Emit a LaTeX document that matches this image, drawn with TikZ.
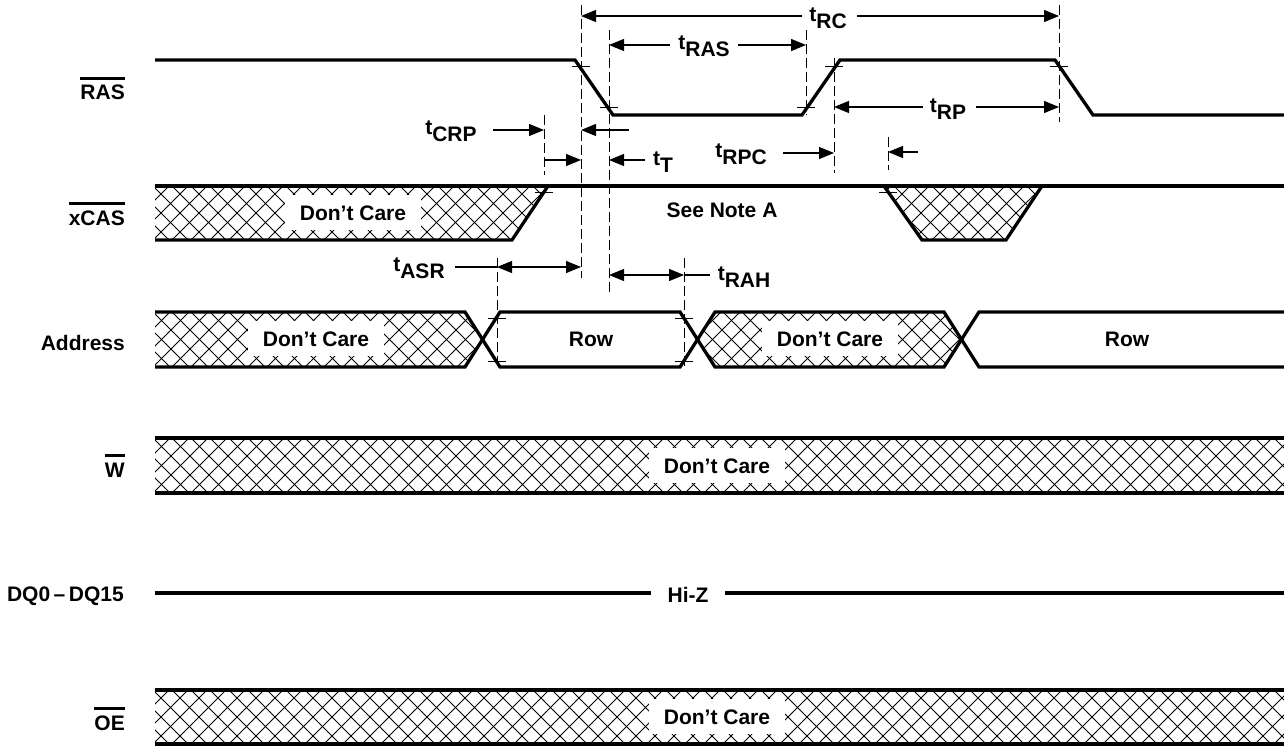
\documentclass[tikz,border=0pt]{standalone}
\usepackage{fontspec}
\setmainfont{Liberation Sans}
\usetikzlibrary{arrows.meta}
\newcommand{\tm}[1]{t\raisebox{-7pt}{#1}}
\newcommand{\ovl}[1]{\sbox0{#1}\rlap{\rule[20pt]{\wd0}{2.8pt}}\usebox0}
\newcommand{\hatchband}[2]{\foreach \hx in {20,39,...,1300}{\draw[hatchln] (\hx,#1) -- ++(#2-#1,#2-#1); \draw[hatchln] (\hx,#2) -- ++(#2-#1,#1-#2);}}
\begin{document}
\begin{tikzpicture}[x=1pt,y=-1pt,
  >={Triangle[length=15pt,width=12pt]},
  sig/.style={line width=3.3pt},
  hatchln/.style={line width=0.9pt},
  dashln/.style={line width=1pt, dash pattern=on 10pt off 4pt},
  tickmk/.style={line width=1pt},
  dimarr/.style={line width=1.2pt},
  txt/.style={font=\bfseries\fontsize{21}{25}\selectfont, inner sep=0pt},
  whitelbl/.style={txt, fill=white, text height=15pt, text depth=0pt, inner ysep=10pt, inner xsep=15pt, anchor=base}]
\useasboundingbox (0,0) rectangle (1284,746);

% ---------- hatched regions ----------
\begin{scope}
  \clip (155,186) -- (548,186) -- (512,240) -- (155,240) -- cycle;
  \hatchband{186}{240}
\end{scope}
\begin{scope}
  \clip (884,186) -- (922,240) -- (1006,240) -- (1042,186) -- cycle;
  \hatchband{186}{240}
\end{scope}
\begin{scope}
  \clip (155,312) -- (465,312) -- (482.5,339.5) -- (465,367) -- (155,367) -- cycle;
  \hatchband{312}{367}
\end{scope}
\begin{scope}
  \clip (697.5,339.5) -- (715,312) -- (944,312) -- (961.5,339.5) -- (944,367) -- (715,367) -- cycle;
  \hatchband{312}{367}
\end{scope}
\begin{scope}
  \clip (155,438) rectangle (1284,493);
  \hatchband{438}{493}
\end{scope}
\begin{scope}
  \clip (155,690) rectangle (1284,744);
  \hatchband{690}{744}
\end{scope}

% ---------- labels inside bands ----------
\node[whitelbl] (dc1) at (353,220) {Don’t Care};
\node[whitelbl] (dc2) at (316,346) {Don’t Care};
\node[whitelbl] (dc3) at (830,346) {Don’t Care};
\node[whitelbl] (dc4) at (717,473) {Don’t Care};
\node[whitelbl] (dc5) at (717,724) {Don’t Care};
\node[txt, anchor=base] (row1) at (591,346) {Row};
\node[txt, anchor=base] (row2) at (1127,346) {Row};
\node[txt, anchor=base] (note) at (722,217) {See Note A};
\node[txt, anchor=base, inner xsep=16pt] (hiz) at (688,602) {Hi-Z};

% ---------- signal waveforms ----------
\draw[sig] (155,60) -- (575,60) -- (613,115) -- (802,115) -- (840,60) -- (1055,60) -- (1093,115) -- (1284,115);
\draw[sig] (155,186) -- (1284,186);
\draw[sig] (155,240) -- (512,240) -- (548,186);
\draw[sig] (884,186) -- (922,240) -- (1006,240) -- (1042,186);
\draw[sig] (155,312) -- (465,312) -- (500,367) -- (680,367) -- (715,312) -- (944,312) -- (979,367) -- (1284,367);
\draw[sig] (155,367) -- (465,367) -- (500,312) -- (680,312) -- (715,367) -- (944,367) -- (979,312) -- (1284,312);
\draw[sig] (155,438) -- (1284,438);
\draw[sig] (155,493) -- (1284,493);
\coordinate (dqs) at (155,593);
\coordinate (dqe) at (1284,593);
\draw[sig] (dqs) -- (hiz.west |- dqs);
\draw[sig] (hiz.east |- dqe) -- (dqe);
\draw[sig] (155,690) -- (1284,690);
\draw[sig] (155,744) -- (1284,744);

% ---------- signal names ----------
\node[txt, anchor=base east] (lras) at (125,100) {\ovl{RAS}};
\node[txt, anchor=base east] (lcas) at (125,225) {\ovl{xCAS}};
\node[txt, anchor=base east] (ladr) at (125,350) {Address};
\node[txt, anchor=base east] (lw) at (125,477) {\ovl{W}};
\node[txt, anchor=base east] (ldq) at (124,601) {DQ0\,–\,DQ15};
\node[txt, anchor=base east] (loe) at (125,730) {\ovl{OE}};

% ---------- dashed reference lines ----------
\draw[dashln] (544,115) -- (544,175);
\draw[dashln] (581,5) -- (581,278);
\draw[dashln] (609,30) -- (609,293);
\draw[dashln] (806,30) -- (806,115);
\draw[dashln] (834,58) -- (834,173);
\draw[dashln] (888,137) -- (888,170);
\draw[dashln] (1059,5) -- (1059,122);
\draw[dashln] (497,258) -- (497,368);
\draw[dashln] (684,258) -- (684,368);

% ---------- tick marks ----------
\foreach \tx/\ty in {581/67, 609/108, 806/108, 834/67, 1059/67, 544/193, 888/193, 497/318, 497/361, 684/318, 684/361}
  \draw[tickmk] (\tx-9,\ty) -- (\tx+9,\ty);

% ---------- timing labels ----------
\node[txt] (trc) at (828,18) {\tm{RC}};
\node[txt] (tras) at (704,46) {\tm{RAS}};
\node[txt] (trp) at (948,109) {\tm{RP}};
\node[txt] (tcrp) at (451,131) {\tm{CRP}};
\node[txt] (tt) at (663,162) {\tm{T}};
\node[txt] (trpc) at (741,154) {\tm{RPC}};
\node[txt] (tasr) at (419,268) {\tm{ASR}};
\node[txt] (trah) at (744,277) {\tm{RAH}};

% ---------- dimension arrows ----------
\draw[dimarr,->] (802,16) -- (581,16);
\draw[dimarr,->] (857,16) -- (1059,16);
\draw[dimarr,->] (670,45) -- (609,45);
\draw[dimarr,->] (738,45) -- (806,45);
\draw[dimarr,->] (923,107) -- (834,107);
\draw[dimarr,->] (976,107) -- (1059,107);
\draw[dimarr,->] (493,130) -- (544,130);
\draw[dimarr,->] (629,130) -- (581,130);
\draw[dimarr,->] (544,160) -- (581,160);
\draw[dimarr,->] (645,160) -- (609,160);
\draw[dimarr,->] (783,153) -- (834,153);
\draw[dimarr,->] (918,152) -- (888,152);
\draw[dimarr] (455,267) -- (497,267);
\draw[dimarr,<->] (497,267) -- (581,267);
\draw[dimarr,<->] (609,275) -- (684,275);
\draw[dimarr] (684,275) -- (710,275);
\end{tikzpicture}
\end{document}
